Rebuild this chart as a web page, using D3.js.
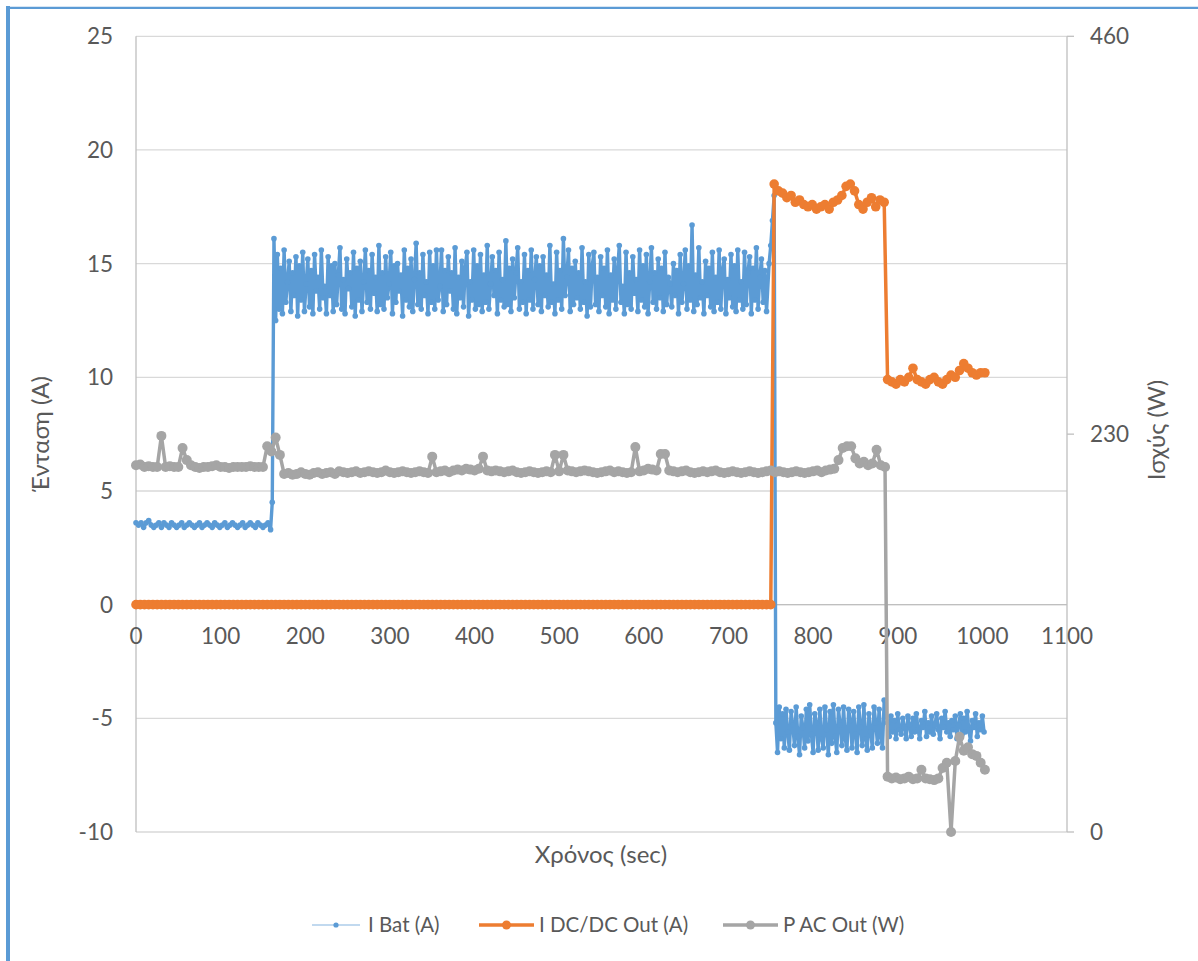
<!DOCTYPE html>
<html>
<head>
<meta charset="utf-8">
<script src="https://cdn.jsdelivr.net/npm/d3@7"></script>
<style>
  body { margin: 0; background: #fff; }
  svg text { font-family: Lato, "Open Sans", sans-serif; fill: #595959; }
</style>
</head>
<body>
<svg id="chart" width="1198" height="961"></svg>
<script>
// ---- data ----
const xTicks = [0, 100, 200, 300, 400, 500, 600, 700, 800, 900, 1000, 1100];
const leftTicks = [-10, -5, 0, 5, 10, 15, 20, 25];
const rightTicks = [0, 230, 460];

// I Bat (A): segments of [start sec, step sec, values]
const batLow = [3.6,3.5,3.6,3.4,3.6,3.7,3.5,3.4,3.5,3.6,3.4,3.6,3.5,3.4,3.6,3.5,3.4,3.5,
  3.6,3.4,3.5,3.6,3.5,3.4,3.5,3.6,3.4,3.5,3.6,3.5,3.4,3.6,3.5,3.4,3.5,3.6,
  3.4,3.5,3.6,3.5,3.4,3.5,3.6,3.4,3.5,3.6,3.5,3.4,3.6,3.5,3.4,3.5,3.6,3.3];
const batHigh = [4.5,
  16.1,12.5,15.4,13.0,14.8,12.8,15.6,13.3,14.2,15.1,12.9,14.6,13.6,15.3,12.7,14.9,
  13.4,15.5,12.9,14.1,15.2,13.1,14.7,12.8,15.4,13.8,14.4,13.0,15.6,13.5,14.0,12.8,
  15.3,13.6,14.9,12.9,15.0,13.2,14.5,15.7,13.0,14.3,12.8,15.2,13.9,14.6,13.1,15.5,
  12.7,14.8,13.4,15.1,12.9,14.2,15.6,13.3,14.7,13.0,15.4,13.7,14.4,12.9,15.8,13.2,
  14.6,13.0,15.3,13.5,14.1,15.5,12.8,14.9,13.3,15.0,13.8,14.5,12.7,15.6,13.4,14.8,
  13.1,15.2,12.9,14.3,15.9,13.2,14.6,13.0,15.4,13.6,14.2,12.8,15.5,13.3,14.9,13.0,
  15.6,13.4,14.0,15.6,12.9,14.7,13.2,15.3,13.8,14.6,13.0,15.7,12.8,14.4,13.5,15.1,
  13.1,14.8,15.5,12.7,14.2,13.4,15.6,13.0,14.9,13.2,15.4,12.9,14.5,13.3,15.8,13.0,
  14.1,15.3,13.6,14.7,12.8,15.5,13.4,14.3,13.1,16.0,13.2,14.8,12.9,15.2,13.5,14.6,
  15.7,13.0,14.2,13.3,15.4,12.8,14.7,13.4,15.6,13.0,14.3,15.3,13.2,14.9,12.9,15.3,
  13.6,14.5,13.1,15.8,13.3,14.1,12.8,15.5,13.4,14.7,13.0,16.1,13.6,14.4,15.6,12.9,
  14.8,13.2,15.1,13.5,14.6,13.0,15.7,13.3,14.2,12.7,15.4,13.1,14.9,15.5,13.2,14.4,
  12.9,15.3,13.6,14.8,13.1,15.6,12.8,14.5,13.4,15.2,13.0,14.7,15.8,13.3,14.0,12.8,
  15.5,13.2,14.6,13.0,15.3,13.7,14.3,12.9,15.6,13.4,14.9,13.1,15.4,12.8,14.2,15.7,
  13.3,14.6,13.0,15.2,13.5,14.8,12.9,15.5,13.2,14.4,14.1,13.1,15.0,13.6,14.7,12.8,
  15.4,13.3,14.1,15.6,13.0,14.9,13.4,16.7,12.9,14.5,13.2,15.7,13.5,14.2,12.8,15.1,
  13.6,14.8,13.1,15.5,12.9,14.4,13.3,15.6,13.0,14.7,15.2,12.8,14.3,13.5,15.4,13.1,
  14.9,12.9,15.6,13.4,14.2,13.0,15.5,13.2,14.6,15.3,12.8,14.8,13.4,15.7,13.0,14.4,
  15.2,13.3,14.7,12.9];
const batRise = [15.0, 15.8, 16.9, 18.0];
const batNegA = [-5.2,-6.5,-4.5,-5.9,-4.8,-6.3,-4.6,-5.6,-6.4,-4.7,-5.3,-6.2,-4.5,-5.8,-6.6,-4.9,
  -5.4,-6.3,-4.6,-6.0,-4.4,-5.7,-6.5,-4.8,-5.2,-6.4,-4.6,-5.9,-6.3,-4.5,-5.5,-6.6,
  -4.7,-6.1,-4.4,-5.8,-6.5,-4.6,-5.3,-6.2,-4.5,-5.9,-6.4,-4.6,-5.1,-6.3,-4.7,-5.7,
  -6.5,-4.5,-5.4,-6.2,-4.4,-5.9,-6.4,-4.8,-5.6,-6.3,-4.5,-5.2,-6.1,-4.6,-5.8,-6.3,-4.2];
const batNegB = [-5.2,-5.8,-4.9,-5.6,-5.1,-5.9,-4.8,-5.5,-5.7,-5.0,-5.4,-5.9,-4.9,-5.3,-5.8,-5.0,
  -5.6,-4.8,-5.5,-5.9,-5.1,-5.4,-4.7,-5.8,-5.2,-5.6,-4.9,-5.7,-5.3,-4.8,-5.5,-5.9,
  -5.0,-5.4,-4.7,-5.6,-5.2,-5.8,-5.1,-5.5,-4.9,-5.9,-5.3,-4.8,-5.7,-5.0,-5.6,-4.7,
  -5.5,-6.0,-5.1,-5.4,-4.8,-5.8,-5.2,-5.5,-4.9,-5.6];

// I DC/DC Out (A)
const dcZero = [0,0,0,0,0,0,0,0,0,0,0,0,0,0,0,0,0,0,0,0,0,0,0,0,0,
  0,0,0,0,0,0,0,0,0,0,0,0,0,0,0,0,0,0,0,0,0,0,0,0,0,
  0,0,0,0,0,0,0,0,0,0,0,0,0,0,0,0,0,0,0,0,0,0,0,0,0,
  0,0,0,0,0,0,0,0,0,0,0,0,0,0,0,0,0,0,0,0,0,0,0,0,0,
  0,0,0,0,0,0,0,0,0,0,0,0,0,0,0,0,0,0,0,0,0,0,0,0,0,
  0,0,0,0,0,0,0,0,0,0,0,0,0,0,0,0,0,0,0,0,0,0,0,0,0,0];
const dcHigh = [18.5,18.2,18.1,17.9,18.0,17.7,17.8,17.6,17.5,17.6,17.4,17.5,17.6,17.4,
  17.7,17.8,18.0,18.4,18.5,18.2,17.6,17.4,17.7,17.9,17.5,17.8,17.7];
const dcLow = [9.9,9.8,9.7,9.9,9.8,10.0,10.4,9.9,9.8,9.7,9.9,10.0,9.8,9.7,9.9,10.1,
  10.0,10.3,10.6,10.4,10.2,10.1,10.2,10.2];

// P AC Out (W), right axis
const acStart = [212,212.5,211,211.5,211,211,229,211,211.5,211,211,222,215,212,211,210.5,
  211,211,211.5,212,211,211,210.5,211,211,211,211,211.5,211,211,211,223,220,228,218];
const acMid = [207,207.5,206.5,207,208,207,206.5,207.5,208,207,
  207.5,208,207,208.5,208,207.5,208,208.5,207.5,208,
  208.5,208,207.5,208,209,208,207.5,208,208.5,208,
  207.5,208,208.5,208,207.5,217,208,208.5,209,208,
  209,209.5,209,210,209.5,209,210,217,209,208.5,
  209,208.5,208,208.5,209,208,207.5,208,208.5,208,
  207.5,208,208.5,208,218,208.5,218,209,208.5,208,
  208.5,209,208.5,208,207.5,208,208.5,209,208,208.5,
  208,207.5,208,222.5,208.5,209,210,209.5,209,218.5,
  218.5,209,208.5,208,208.5,209,208,207.5,208,208.5,
  208,208.5,209,208,207.5,208,208.5,208,207.5,208,
  208.5,208,207.5,208,208.5,209,208,208.5,208,207.5,
  208,208.5,208,207.5,208,208.5,209,208,209,209.5,
  210,215,222,223,223,216,213,214,212,213,
  221,212,211];
const acLow = [32,31,31.5,30.5,31,32,30.5,31,36,31,30.5,30,31,37,40,0,41,55,47,49,45,44,40,36];

// ---- layout ----
const svg = d3.select("#chart");
const x = d3.scaleLinear().domain([0, 1100]).range([136, 1067]);
const yL = d3.scaleLinear().domain([-10, 25]).range([832, 36.3]);
const yR = d3.scaleLinear().domain([0, 460]).range([832, 36.3]);

const toPoints = segments => segments.flatMap(([start, step, values]) =>
  values.map((v, i) => ({ t: start + i * step, v })));

const series = [
  { name: "I Bat (A)", color: "#5b9bd5", width: 3.4, opacity: 1, r: 2.8, y: yL,
    legendWidth: 1.3, legendOpacity: 0.5, legendR: 2.6,
    points: toPoints([[0, 3, batLow], [161, 2, batHigh], [748, 2, batRise], [756, 2, batNegA], [888, 2, batNegB]]) },
  { name: "I DC/DC Out (A)", color: "#ed7d31", width: 3.5, opacity: 1, r: 4.8, y: yL,
    legendWidth: 3.5, legendOpacity: 1, legendR: 4.5,
    points: toPoints([[0, 5, dcZero], [754, 5, dcHigh], [888, 5, dcLow]]) },
  { name: "P AC Out (W)", color: "#a5a5a5", width: 3.5, opacity: 1, r: 5, y: yR,
    legendWidth: 3.5, legendOpacity: 1, legendR: 4.5,
    points: toPoints([[0, 5, acStart], [175, 5, acMid], [888, 5, acLow]]) }
];

// frame (only left and top edges are in view)
svg.append("line").attr("x1", 8).attr("x2", 8).attr("y1", 6).attr("y2", 961)
  .attr("stroke", "#5b9bd5").attr("stroke-width", 4);
svg.append("line").attr("x1", 6).attr("x2", 1198).attr("y1", 7.8).attr("y2", 7.8)
  .attr("stroke", "#5b9bd5").attr("stroke-width", 2.2);

// gridlines
svg.append("g").selectAll("line").data(leftTicks).join("line")
  .attr("x1", x(0)).attr("x2", x(1100))
  .attr("y1", d => yL(d)).attr("y2", d => yL(d))
  .attr("stroke", "#d9d9d9").attr("stroke-width", 1.3);

// axes lines
svg.append("line").attr("x1", x(0)).attr("x2", x(0)).attr("y1", yL(25)).attr("y2", yL(-10))
  .attr("stroke", "#bfbfbf").attr("stroke-width", 1.3);
svg.append("line").attr("x1", x(1100)).attr("x2", x(1100)).attr("y1", yL(25)).attr("y2", yL(-10))
  .attr("stroke", "#bfbfbf").attr("stroke-width", 1.3);
svg.append("line").attr("x1", x(0)).attr("x2", x(1100)).attr("y1", yL(0)).attr("y2", yL(0))
  .attr("stroke", "#bfbfbf").attr("stroke-width", 1.3);
svg.append("g").selectAll("line").data(rightTicks).join("line")
  .attr("x1", x(1100)).attr("x2", x(1100) + 7)
  .attr("y1", d => yR(d)).attr("y2", d => yR(d))
  .attr("stroke", "#bfbfbf").attr("stroke-width", 1.3);

// tick labels
svg.append("g").selectAll("text").data(leftTicks).join("text")
  .attr("x", 113).attr("y", d => yL(d)).attr("dy", "0.35em")
  .attr("text-anchor", "end").attr("font-size", 22.5).text(d => d);
svg.append("g").selectAll("text").data(rightTicks).join("text")
  .attr("x", 1090).attr("y", d => yR(d)).attr("dy", "0.35em")
  .attr("font-size", 22.5).text(d => d);
svg.append("g").selectAll("text").data(xTicks).join("text")
  .attr("x", d => x(d)).attr("y", 636).attr("dy", "0.35em")
  .attr("text-anchor", "middle").attr("font-size", 22.5).text(d => d);

// axis titles
svg.append("text").attr("transform", "translate(41,434) rotate(-90)")
  .attr("text-anchor", "middle").attr("dy", "0.35em").attr("font-size", 24).text("Ένταση (A)");
svg.append("text").attr("transform", "translate(1157,430) rotate(-90)")
  .attr("text-anchor", "middle").attr("dy", "0.35em").attr("font-size", 24).text("Ισχύς (W)");
svg.append("text").attr("x", 601).attr("y", 855).attr("dy", "0.35em")
  .attr("text-anchor", "middle").attr("font-size", 24).text("Χρόνος (sec)");

// series
series.forEach(s => {
  const g = svg.append("g");
  const line = d3.line().x(d => x(d.t)).y(d => s.y(d.v));
  g.append("path").datum(s.points)
    .attr("d", line).attr("fill", "none")
    .attr("stroke", s.color).attr("stroke-width", s.width)
    .attr("stroke-opacity", s.opacity).attr("stroke-linejoin", "round");
  g.selectAll("circle").data(s.points).join("circle")
    .attr("cx", d => x(d.t)).attr("cy", d => s.y(d.v))
    .attr("r", s.r).attr("fill", s.color);
});

// legend
const legendX = [312, 479, 723];
const legend = svg.append("g").selectAll("g").data(series).join("g")
  .attr("transform", (d, i) => `translate(${legendX[i]},925)`);
legend.append("line").attr("x1", 0).attr("x2", (d, i) => i === 0 ? 48 : 55)
  .attr("stroke", d => d.color).attr("stroke-width", d => d.legendWidth)
  .attr("stroke-opacity", d => d.legendOpacity);
legend.append("circle").attr("cx", (d, i) => i === 0 ? 24 : 27.5).attr("r", d => d.legendR)
  .attr("fill", d => d.color);
legend.append("text").attr("x", (d, i) => i === 0 ? 56 : 60).attr("dy", "0.35em")
  .attr("font-size", 20.5).text(d => d.name);
</script>
</body>
</html>
